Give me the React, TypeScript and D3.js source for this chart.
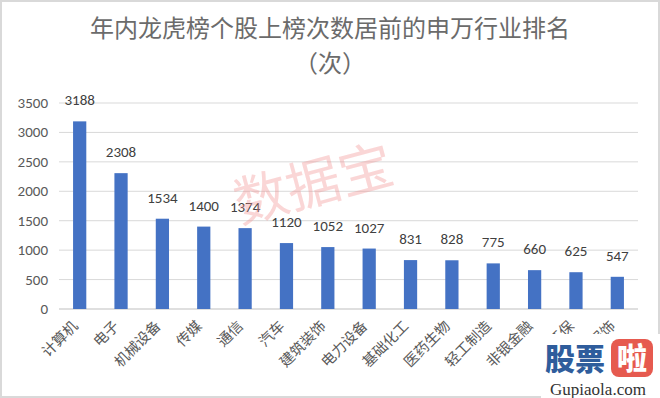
import React from 'react';
import * as d3 from 'd3';

const industries = [
  '计算机', '电子', '机械设备', '传媒', '通信', '汽车', '建筑装饰',
  '电力设备', '基础化工', '医药生物', '轻工制造', '非银金融', '环保', '纺织服饰',
];
const counts = [3188, 2308, 1534, 1400, 1374, 1120, 1052, 1027, 831, 828, 775, 660, 625, 547];
const yTicks = [0, 500, 1000, 1500, 2000, 2500, 3000, 3500];

const titleLines = ['年内龙虎榜个股上榜次数居前的申万行业排名', '（次）'];

const W = 660;
const H = 398;
const padding = { top: 103, right: 22, bottom: 89, left: 59 };
const cjk = '"Noto Sans CJK SC", "Microsoft YaHei", sans-serif';
const latin = 'Calibri, Carlito, "Liberation Sans", "Noto Sans", sans-serif';

const App = () => {
  const innerW = W - padding.left - padding.right;
  const innerH = H - padding.top - padding.bottom;

  const x = d3
    .scaleBand<string>()
    .domain(industries)
    .range([padding.left, padding.left + innerW])
    .paddingInner(0.68)
    .paddingOuter(0.34);

  const y = d3
    .scaleLinear()
    .domain([0, 3500])
    .range([padding.top + innerH, padding.top]);

  return (
    <div style={{ position: 'absolute', left: 0, top: 0 }}>
      <svg width={W} height={H} viewBox={`0 0 ${W} ${H}`} style={{ display: 'block' }}>
        <rect x={0} y={0} width={W} height={H} fill="#fff" />
        <rect x={1} y={1} width={W - 2} height={H - 2} fill="none" stroke="#d9d9d9" strokeWidth={2} />

        <g className="title" fill="#6b6b6b" fontFamily={cjk} textAnchor="middle">
          {titleLines.map((t, i) => (
            <text key={i} x={W / 2} y={37 + i * 35} fontSize={24}>{t}</text>
          ))}
        </g>

        <g className="grid">
          {yTicks.map((t) => (
            <line
              key={t}
              x1={padding.left}
              x2={padding.left + innerW}
              y1={y(t)}
              y2={y(t)}
              stroke={t === 0 ? '#bfbfbf' : '#d9d9d9'}
              strokeWidth={1}
            />
          ))}
        </g>

        <g className="y-axis" fill="#595959" fontFamily={latin} fontSize={15} textAnchor="end">
          {yTicks.map((t) => (
            <text key={t} x={48} y={y(t) + 5}>{t}</text>
          ))}
        </g>

        <g className="bars">
          {industries.map((name, i) => (
            <rect
              key={name}
              x={x(name)}
              y={y(counts[i])}
              width={x.bandwidth()}
              height={y(0) - y(counts[i])}
              fill="#4472c4"
            />
          ))}
        </g>

        <g className="labels" fill="#404040" fontFamily={latin} fontSize={15} textAnchor="middle">
          {industries.map((name, i) => (
            <text key={name} x={(x(name) || 0) + x.bandwidth() / 2} y={y(counts[i]) - 16}>
              {counts[i]}
            </text>
          ))}
        </g>

        <g className="x-axis" fill="#595959" fontFamily={cjk} fontSize={14.5} textAnchor="end">
          {industries.map((name) => {
            const cx = (x(name) || 0) + x.bandwidth() / 2 - 1;
            const cy = y(0) + 18;
            return (
              <text key={name} transform={`translate(${cx},${cy}) rotate(-45)`}>
                {name}
              </text>
            );
          })}
        </g>

        <text
          x={314}
          y={203}
          fontFamily={cjk}
          fontSize={54}
          fill="#f08a8a"
          fillOpacity={0.35}
          textAnchor="middle"
          transform="rotate(-15 314 186)"
        >
          数据宝
        </text>

        <g className="logo">
          <rect x={541} y={334} width={119} height={64} fill="#fff" />
          <text x={545} y={370} fontFamily={cjk} fontWeight={900} fontSize={30} fill="#2f5d9c">
            股票
          </text>
          <rect x={611} y={339} width={42} height={38} rx={8} fill="#e65a4f" />
          <text x={632} y={369} fontFamily={cjk} fontWeight={900} fontSize={30} fill="#fff" textAnchor="middle">
            啦
          </text>
          <text x={598} y={395} fontFamily='"Liberation Serif", serif' fontSize={17} fill="#333" textAnchor="middle">
            Gupiaola.com
          </text>
        </g>
      </svg>
    </div>
  );
};

export default App;
